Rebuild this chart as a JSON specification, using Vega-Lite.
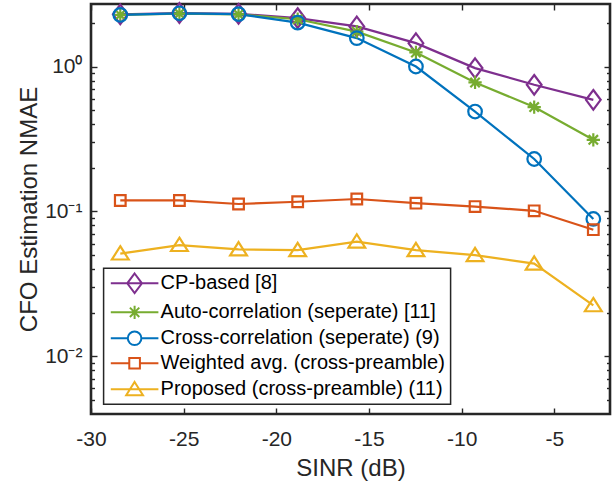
{
  "$schema": "https://vega.github.io/schema/vega-lite/v6.json",
  "width": 519,
  "height": 410,
  "autosize": {"type": "none"},
  "padding": {"left": 91, "top": 4, "right": 5, "bottom": 71},
  "background": "white",
  "data": {
    "values": [
      {"x": -28.42, "y": 2.29, "s": "CP-based [8]"},
      {"x": -25.23, "y": 2.34, "s": "CP-based [8]"},
      {"x": -22.04, "y": 2.31, "s": "CP-based [8]"},
      {"x": -18.85, "y": 2.16, "s": "CP-based [8]"},
      {"x": -15.66, "y": 1.89, "s": "CP-based [8]"},
      {"x": -12.47, "y": 1.45, "s": "CP-based [8]"},
      {"x": -9.28, "y": 0.975, "s": "CP-based [8]"},
      {"x": -6.09, "y": 0.748, "s": "CP-based [8]"},
      {"x": -2.9, "y": 0.589, "s": "CP-based [8]"},
      {"x": -28.42, "y": 2.27, "s": "Auto-correlation (seperate) [11]"},
      {"x": -25.23, "y": 2.32, "s": "Auto-correlation (seperate) [11]"},
      {"x": -22.04, "y": 2.29, "s": "Auto-correlation (seperate) [11]"},
      {"x": -18.85, "y": 2.12, "s": "Auto-correlation (seperate) [11]"},
      {"x": -15.66, "y": 1.74, "s": "Auto-correlation (seperate) [11]"},
      {"x": -12.47, "y": 1.25, "s": "Auto-correlation (seperate) [11]"},
      {"x": -9.28, "y": 0.776, "s": "Auto-correlation (seperate) [11]"},
      {"x": -6.09, "y": 0.525, "s": "Auto-correlation (seperate) [11]"},
      {"x": -2.9, "y": 0.312, "s": "Auto-correlation (seperate) [11]"},
      {"x": -28.42, "y": 2.27, "s": "Cross-correlation (seperate) (9)"},
      {"x": -25.23, "y": 2.33, "s": "Cross-correlation (seperate) (9)"},
      {"x": -22.04, "y": 2.3, "s": "Cross-correlation (seperate) (9)"},
      {"x": -18.85, "y": 2.01, "s": "Cross-correlation (seperate) (9)"},
      {"x": -15.66, "y": 1.57, "s": "Cross-correlation (seperate) (9)"},
      {"x": -12.47, "y": 1.0, "s": "Cross-correlation (seperate) (9)"},
      {"x": -9.28, "y": 0.489, "s": "Cross-correlation (seperate) (9)"},
      {"x": -6.09, "y": 0.23, "s": "Cross-correlation (seperate) (9)"},
      {"x": -2.9, "y": 0.0887, "s": "Cross-correlation (seperate) (9)"},
      {"x": -28.42, "y": 0.119, "s": "Weighted avg. (cross-preamble)"},
      {"x": -25.23, "y": 0.119, "s": "Weighted avg. (cross-preamble)"},
      {"x": -22.04, "y": 0.1125, "s": "Weighted avg. (cross-preamble)"},
      {"x": -18.85, "y": 0.1166, "s": "Weighted avg. (cross-preamble)"},
      {"x": -15.66, "y": 0.1218, "s": "Weighted avg. (cross-preamble)"},
      {"x": -12.47, "y": 0.114, "s": "Weighted avg. (cross-preamble)"},
      {"x": -9.28, "y": 0.108, "s": "Weighted avg. (cross-preamble)"},
      {"x": -6.09, "y": 0.101, "s": "Weighted avg. (cross-preamble)"},
      {"x": -2.9, "y": 0.0748, "s": "Weighted avg. (cross-preamble)"},
      {"x": -28.42, "y": 0.0512, "s": "Proposed (cross-preamble) (11)"},
      {"x": -25.23, "y": 0.0586, "s": "Proposed (cross-preamble) (11)"},
      {"x": -22.04, "y": 0.0547, "s": "Proposed (cross-preamble) (11)"},
      {"x": -18.85, "y": 0.054, "s": "Proposed (cross-preamble) (11)"},
      {"x": -15.66, "y": 0.0619, "s": "Proposed (cross-preamble) (11)"},
      {"x": -12.47, "y": 0.054, "s": "Proposed (cross-preamble) (11)"},
      {"x": -9.28, "y": 0.0499, "s": "Proposed (cross-preamble) (11)"},
      {"x": -6.09, "y": 0.0436, "s": "Proposed (cross-preamble) (11)"},
      {"x": -2.9, "y": 0.0225, "s": "Proposed (cross-preamble) (11)"}
    ]
  },
  "layer": [
    {
      "mark": {"type": "line", "strokeWidth": 2.2},
      "encoding": {
        "x": {"field": "x", "type": "quantitative",
          "scale": {"domain": [-30, -2], "nice": false, "zero": false},
          "axis": {"orient": "bottom", "values": [-30, -25, -20, -15, -10, -5], "tickSize": -6, "labelPadding": 20,
            "labelExpr": "'-' + abs(datum.value)",
            "title": "SINR (dB)", "titlePadding": 7}},
        "y": {"field": "y", "type": "quantitative",
          "scale": {"type": "log", "domain": [0.004, 2.7], "nice": false},
          "axis": {"orient": "left", "values": [0.01, 0.1, 1], "tickSize": -6, "labelPadding": 15,
            "labelExpr": "datum.value == 1 ? '10⁰' : datum.value == 0.1 ? '10⁻¹' : datum.value == 0.01 ? '10⁻²' : ''",
            "title": "CFO Estimation NMAE", "titlePadding": 3}},
        "color": {"field": "s", "type": "nominal", "legend": null,
          "scale": {"domain": ["CP-based [8]", "Auto-correlation (seperate) [11]", "Cross-correlation (seperate) (9)", "Weighted avg. (cross-preamble)", "Proposed (cross-preamble) (11)"],
                    "range": ["#7E2F8E", "#77AC30", "#0072BD", "#D95319", "#EDB120"]}}
      }
    },
    {
      "mark": {"type": "point", "filled": false, "strokeWidth": 2.2, "size": 196, "opacity": 1},
      "encoding": {
        "x": {"field": "x", "type": "quantitative",
          "axis": {"orient": "top", "values": [-30, -25, -20, -15, -10, -5], "tickSize": -6, "labels": false, "title": null}},
        "y": {"field": "y", "type": "quantitative",
          "axis": {"orient": "right", "values": [0.01, 0.1, 1], "tickSize": -6, "labels": false, "title": null}},
        "color": {"field": "s", "type": "nominal", "legend": null},
        "shape": {"field": "s", "type": "nominal", "legend": null,
          "scale": {"domain": ["CP-based [8]", "Auto-correlation (seperate) [11]", "Cross-correlation (seperate) (9)", "Weighted avg. (cross-preamble)", "Proposed (cross-preamble) (11)"],
            "range": [
              "M0,-1.4L1.05,0L0,1.4L-1.05,0Z",
              "M-0.95,0L0.95,0M0,-0.95L0,0.95M-0.67,-0.67L0.67,0.67M-0.67,0.67L0.67,-0.67",
              "M0.97,0A0.97,0.97,0,1,1,-0.97,0A0.97,0.97,0,1,1,0.97,0Z",
              "M-0.76,-0.76L0.76,-0.76L0.76,0.76L-0.76,0.76Z",
              "M0,-1.05L1.2,0.85L-1.2,0.85Z"
            ]}}
      }
    },
    {
      "mark": {"type": "point", "filled": false, "strokeWidth": 2, "size": 196, "opacity": 0},
      "encoding": {
        "x": {"field": "x", "type": "quantitative", "axis": null},
        "y": {"field": "y", "type": "quantitative",
          "axis": {"orient": "left", "values": [0.005, 0.006, 0.007, 0.008, 0.009, 0.02, 0.03, 0.04, 0.05, 0.06, 0.07, 0.08, 0.09, 0.2, 0.3, 0.4, 0.5, 0.6, 0.7, 0.8, 0.9, 2], "tickSize": -3.5, "labels": false, "title": null}},
        "color": {"field": "s", "type": "nominal",
          "legend": {"orient": "none", "legendX": 12.6, "legendY": 264.3, "title": null, "direction": "vertical",
            "labelFontSize": 20, "labelLimit": 500, "labelColor": "#000000", "labelFont": "Liberation Sans",
            "symbolSize": 196, "symbolStrokeWidth": 2, "symbolOffset": 16, "labelOffset": 16,
            "padding": 5, "rowPadding": 4, "fillColor": "white", "strokeColor": "#262626"}},
        "shape": {"field": "s", "type": "nominal",
          "legend": {"orient": "none", "legendX": 12.6, "legendY": 264.3, "title": null, "direction": "vertical",
            "labelFontSize": 20, "labelLimit": 500, "labelColor": "#000000", "labelFont": "Liberation Sans",
            "symbolSize": 196, "symbolStrokeWidth": 2, "symbolOffset": 16, "labelOffset": 16,
            "padding": 5, "rowPadding": 4, "fillColor": "white", "strokeColor": "#262626"},
          "scale": {"domain": ["CP-based [8]", "Auto-correlation (seperate) [11]", "Cross-correlation (seperate) (9)", "Weighted avg. (cross-preamble)", "Proposed (cross-preamble) (11)"],
            "range": [
              "M-3.4,0L3.4,0M0,-1.4L1.05,0L0,1.4L-1.05,0Z",
              "M-3.4,0L3.4,0M0,-0.95L0,0.95M-0.67,-0.67L0.67,0.67M-0.67,0.67L0.67,-0.67",
              "M-3.4,0L-0.97,0M0.97,0L3.4,0M0.97,0A0.97,0.97,0,1,1,-0.97,0A0.97,0.97,0,1,1,0.97,0Z",
              "M-3.4,0L-0.76,0M0.76,0L3.4,0M-0.76,-0.76L0.76,-0.76L0.76,0.76L-0.76,0.76Z",
              "M-3.4,0L3.4,0M0,-1.05L1.2,0.85L-1.2,0.85Z"
            ]}}
      }
    },
    {
      "mark": {"type": "point", "filled": false, "size": 196, "opacity": 0},
      "encoding": {
        "x": {"field": "x", "type": "quantitative", "axis": null},
        "y": {"field": "y", "type": "quantitative",
          "axis": {"orient": "right", "values": [0.005, 0.006, 0.007, 0.008, 0.009, 0.02, 0.03, 0.04, 0.05, 0.06, 0.07, 0.08, 0.09, 0.2, 0.3, 0.4, 0.5, 0.6, 0.7, 0.8, 0.9, 2], "tickSize": -3.5, "labels": false, "title": null}}
      }
    }
  ],
  "resolve": {
    "axis": {"x": "independent", "y": "independent"},
    "scale": {"shape": "independent"},
    "legend": {"color": "independent", "shape": "independent"}
  },
  "config": {
    "view": {"stroke": "#262626", "strokeWidth": 2.6},
    "font": "Liberation Sans",
    "axis": {"grid": false, "domain": false, "tickColor": "#262626", "tickWidth": 1.4,
      "labelColor": "#262626", "labelFont": "Liberation Sans", "labelFontSize": 21,
      "titleFont": "Liberation Sans", "titleFontSize": 24, "titleFontWeight": "normal", "titleColor": "#262626", "labelFlush": false},
    "legend": {"strokeWidth": 1.5}
  }
}
